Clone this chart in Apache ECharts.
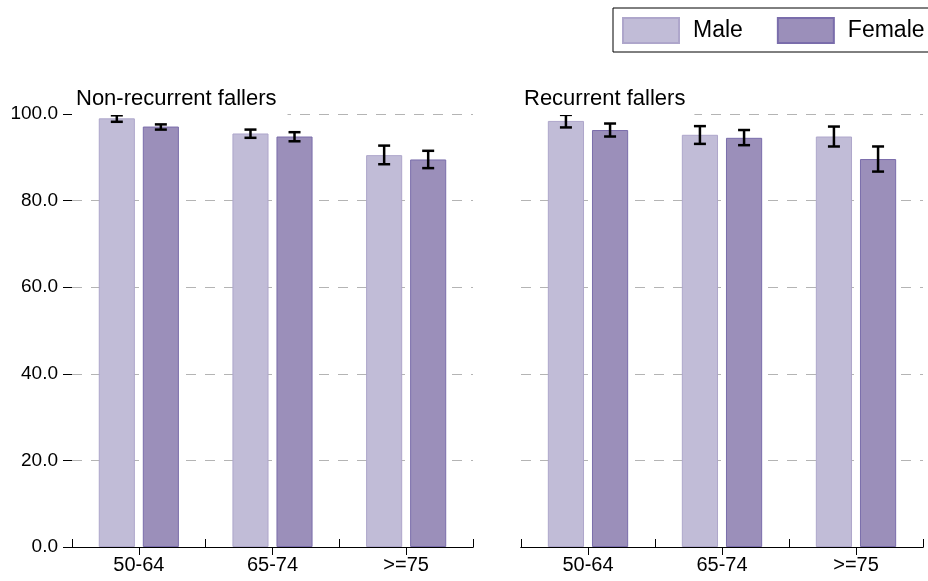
<!DOCTYPE html>
<html>
<head>
<meta charset="utf-8">
<script src="https://cdn.jsdelivr.net/npm/echarts@6/dist/echarts.min.js"></script>
<style>
  html, body { margin: 0; padding: 0; background: #fff; }
  #chart { width: 928px; height: 581px; }
</style>
</head>
<body>
<div id="chart"></div>
<script>
var categories = ['50-64', '65-74', '>=75'];
var yTicks = [0, 20, 40, 60, 80, 100];

// Non-recurrent fallers
var nonRecMale = [99.0, 95.5, 90.5];
var nonRecMaleLo = [98.2, 94.5, 88.4];
var nonRecMaleHi = [99.7, 96.4, 92.7];
var nonRecFemale = [97.1, 94.8, 89.5];
var nonRecFemaleLo = [96.4, 93.7, 87.5];
var nonRecFemaleHi = [97.6, 95.8, 91.5];

// Recurrent fallers
var recMale = [98.4, 95.2, 94.8];
var recMaleLo = [96.9, 93.1, 92.5];
var recMaleHi = [99.8, 97.2, 97.1];
var recFemale = [96.3, 94.5, 89.6];
var recFemaleLo = [94.8, 92.8, 86.7];
var recFemaleHi = [97.8, 96.3, 92.5];

var maleColor = '#c1bcd7', maleBorder = '#aea6cb';
var femaleColor = '#9b8fba', femaleBorder = '#7a6dab';
var BAR_RATIO = 0.27, BAR_GAP = 0.22;
var FONT = 'Liberation Sans';

function errData(lo, hi, side) {
  var out = [];
  for (var i = 0; i < lo.length; i++) out.push([i, lo[i], hi[i], side]);
  return out;
}

function renderErr(params, api) {
  var band = api.size([1, 0])[0];
  var barW = band * BAR_RATIO;
  var off = barW * (1 + BAR_GAP) / 2 * (api.value(3) === 0 ? -1 : 1);
  var lo = api.coord([api.value(0), api.value(1)]);
  var hi = api.coord([api.value(0), api.value(2)]);
  var x = lo[0] + off;
  var cap = 6;
  var style = { stroke: '#000', lineWidth: 2.5, fill: null };
  return {
    type: 'group',
    children: [
      { type: 'line', shape: { x1: x, y1: hi[1], x2: x, y2: lo[1] }, style: style },
      { type: 'line', shape: { x1: x - cap, y1: hi[1], x2: x + cap, y2: hi[1] }, style: style },
      { type: 'line', shape: { x1: x - cap, y1: lo[1], x2: x + cap, y2: lo[1] }, style: style }
    ]
  };
}

function yAxis(idx, showLabels) {
  return {
    type: 'value', gridIndex: idx, min: yTicks[0], max: yTicks[yTicks.length - 1], interval: 20,
    axisLine: { show: false },
    axisTick: { show: showLabels, length: 9, lineStyle: { color: '#000', width: 1 } },
    axisLabel: {
      show: showLabels, margin: 14, color: '#000', fontSize: 19, fontFamily: FONT,
      formatter: function (v) { return v.toFixed(1); }
    },
    splitLine: { show: true, lineStyle: { color: '#b4b4b4', type: [10, 9], width: 1 } }
  };
}

function xMain(idx) {
  return {
    type: 'category', gridIndex: idx, data: categories, position: 'bottom',
    axisLine: { show: true, lineStyle: { color: '#000', width: 1 } },
    axisTick: { show: true, alignWithLabel: true, length: 8, lineStyle: { color: '#000' } },
    axisLabel: { color: '#000', fontSize: 20, margin: 8, fontFamily: FONT }
  };
}

function xBoundary(idx) {
  return {
    type: 'category', gridIndex: idx, data: categories, position: 'bottom',
    axisLine: { show: true, lineStyle: { color: '#000', width: 1 } },
    axisTick: { show: true, inside: true, length: 8, lineStyle: { color: '#000' } },
    axisLabel: { show: false }
  };
}

function barSeries(name, data, xi, yi, color, border) {
  return {
    name: name, type: 'bar', xAxisIndex: xi, yAxisIndex: yi, data: data,
    barWidth: (BAR_RATIO * 100) + '%', barGap: (BAR_GAP * 100) + '%',
    itemStyle: { color: color, borderColor: border, borderWidth: 1 },
    silent: true
  };
}

function errSeries(lo, hi, side, xi, yi) {
  return {
    type: 'custom', xAxisIndex: xi, yAxisIndex: yi, data: errData(lo, hi, side),
    renderItem: renderErr, z: 5, silent: true
  };
}

var chart = echarts.init(document.getElementById('chart'), null, { renderer: 'canvas' });
chart.setOption({
  backgroundColor: '#fff',
  animation: false,
  textStyle: { fontFamily: FONT },
  title: [
    {
      text: 'Non-recurrent fallers', left: 72, top: 85, backgroundColor: '#fff',
      padding: [2, 11, 4, 4],
      textStyle: { fontSize: 22, lineHeight: 24, fontWeight: 'normal', color: '#000', fontFamily: FONT }
    },
    {
      text: 'Recurrent fallers', left: 521, top: 85, backgroundColor: '#fff',
      padding: [2, 9, 4, 3],
      textStyle: { fontSize: 22, lineHeight: 24, fontWeight: 'normal', color: '#000', fontFamily: FONT }
    }
  ],
  legend: {
    data: ['Male', 'Female'], left: 613, top: 8, width: 340, orient: 'horizontal', icon: 'rect',
    borderColor: '#000', borderWidth: 1, padding: [9, 12, 8, 9],
    itemWidth: 56, itemHeight: 25, itemGap: 34,
    textStyle: { fontSize: 23, color: '#000', padding: [0, 0, 0, 9], fontFamily: FONT }
  },
  grid: [
    { left: 72, width: 401, top: 114, bottom: 34 },
    { left: 521, width: 402, top: 114, bottom: 34 }
  ],
  xAxis: [xMain(0), xBoundary(0), xMain(1), xBoundary(1)],
  yAxis: [yAxis(0, true), yAxis(1, false)],
  series: [
    barSeries('Male', nonRecMale, 0, 0, maleColor, maleBorder),
    barSeries('Female', nonRecFemale, 0, 0, femaleColor, femaleBorder),
    errSeries(nonRecMaleLo, nonRecMaleHi, 0, 0, 0),
    errSeries(nonRecFemaleLo, nonRecFemaleHi, 1, 0, 0),
    barSeries('Male', recMale, 2, 1, maleColor, maleBorder),
    barSeries('Female', recFemale, 2, 1, femaleColor, femaleBorder),
    errSeries(recMaleLo, recMaleHi, 0, 2, 1),
    errSeries(recFemaleLo, recFemaleHi, 1, 2, 1)
  ]
});
</script>
</body>
</html>
